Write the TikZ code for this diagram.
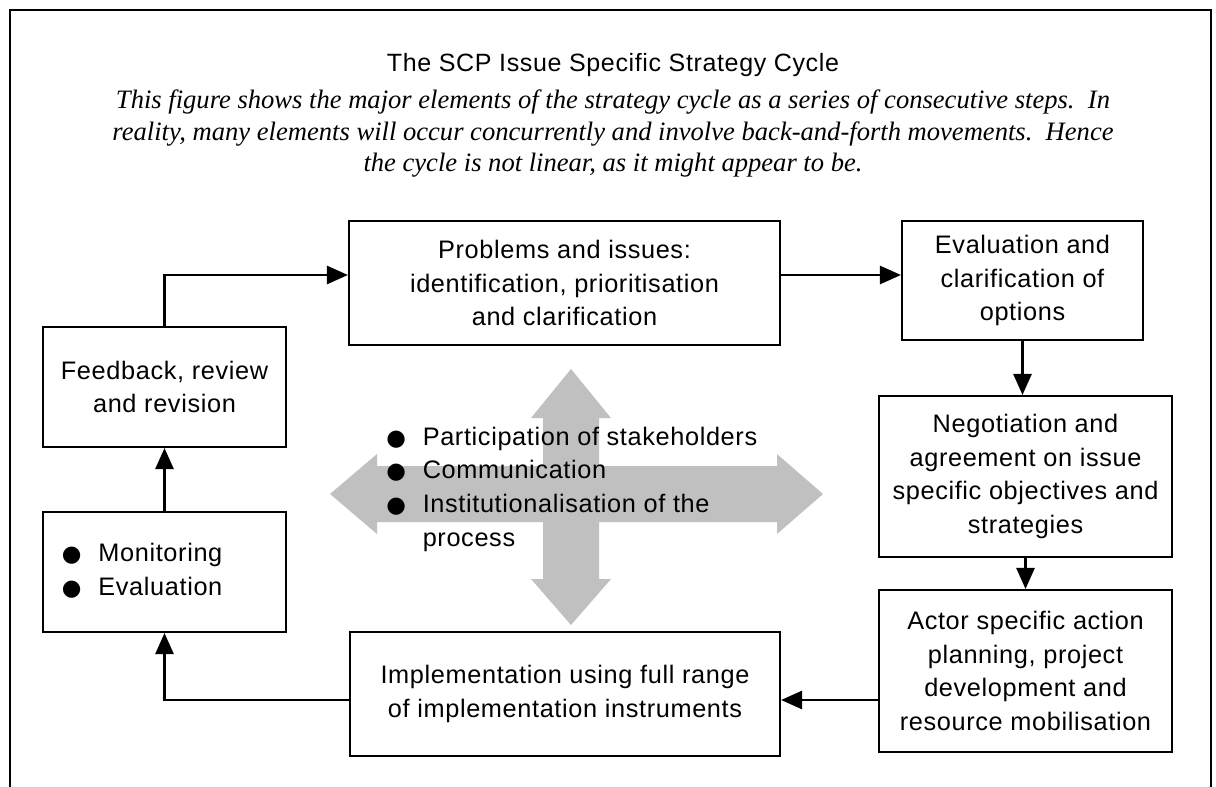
\documentclass[tikz,border=0pt]{standalone}
\usepackage{fontspec}
\setmainfont{Liberation Sans}[LetterSpace=2.5]
\newfontfamily\notefont{Liberation Serif}
\newfontfamily\dotfont{DejaVu Sans}
\usetikzlibrary{arrows.meta}

\definecolor{crossgray}{RGB}{192,192,192}
\newcommand{\dotitem}{{\dotfont\fontsize{16}{16}\selectfont\char"25CF}}

\begin{document}
\begin{tikzpicture}[x=0.025cm,y=-0.025cm,>={Triangle[length=15pt,width=13pt]},
    stepbox/.style={draw, line width=1.5pt, align=center, inner sep=0pt, font=\fontsize{18}{24}\selectfont},
    flow/.style={->, line width=1.5pt}]
    \useasboundingbox (0,0) rectangle (1216,787);

    % Rahmen, unten offen
    \draw[line width=1.9pt] (10,787) -- (10,10) -- (1211,10) -- (1211,787);

    % Überschrift und Erläuterung
    \node[font=\fontsize{17.8}{24}\selectfont, anchor=base] (title) at (613,72) {The SCP Issue Specific Strategy Cycle};
    \node[font=\notefont\itshape\fontsize{18.9}{22.4}\selectfont, align=center, inner sep=0pt] (note) at (613,134)
        {This figure shows the major elements of the strategy cycle as a series of consecutive steps.\ \ In\\
         reality, many elements will occur concurrently and involve back-and-forth movements.\ \ Hence\\
         the cycle is not linear, as it might appear to be.};

    % Grauer Doppelpfeil-Kreuz in der Mitte
    \fill[crossgray] (330,494) -- (377,454) -- (377,466) -- (543,466) -- (543,418) -- (531,418)
        -- (571,369) -- (611,418) -- (599,418) -- (599,466) -- (777,466) -- (777,454) -- (823,494)
        -- (777,534) -- (777,522) -- (599,522) -- (599,579) -- (611,579) -- (571,625) -- (531,579)
        -- (543,579) -- (543,522) -- (377,522) -- (377,534) -- cycle;

    % Schritte des Zyklus
    \node[stepbox, minimum width=10.775cm, minimum height=3.1cm] (prob) at (564.5,283)
        {Problems and issues:\\ identification, prioritisation\\ and clarification};
    \node[stepbox, minimum width=6.025cm, minimum height=2.975cm] (eval) at (1022.5,280.5)
        {Evaluation and\\ clarification of\\ options};
    \node[stepbox, minimum width=7.325cm, minimum height=4.025cm] (nego) at (1025.5,476.5)
        {Negotiation and\\ agreement on issue\\ specific objectives and\\ strategies};
    \node[stepbox, minimum width=7.325cm, minimum height=4.05cm] (actor) at (1025.5,671)
        {Actor specific action\\ planning, project\\ development and\\ resource mobilisation};
    \node[stepbox, minimum width=10.75cm, minimum height=3.1cm] (impl) at (565,694)
        {Implementation using full range\\ of implementation instruments};
    \node[stepbox, minimum width=6.075cm, minimum height=3cm, inner xsep=13.5pt,
          text width=6.075cm-27pt, align=left] (monit) at (164.5,572)
        {\begin{tabular}{@{}l@{\hspace{12pt}}l@{}}
            \dotitem & Monitoring\\
            \dotitem & Evaluation
         \end{tabular}};
    \node[stepbox, minimum width=6.075cm, minimum height=3cm] (feed) at (164.5,387)
        {Feedback, review\\ and revision};

    % Querschnittsaufgaben
    \node[font=\fontsize{18}{24}\selectfont, inner sep=0pt, anchor=west] (tasks) at (386,489)
        {\begin{tabular}{@{}l@{\hspace{12pt}}l@{}}
            \dotitem & Participation of stakeholders\\
            \dotitem & Communication\\
            \dotitem & Institutionalisation of the\\
                     & process
         \end{tabular}};

    % Höhen der waagrechten Verbindungen
    \coordinate (upper) at (0,275);
    \coordinate (lower) at (0,700);

    % Verbindungen
    \draw[flow] (feed.north) |- (prob.west |- upper);
    \draw[flow] (prob.east |- upper) -- (eval.west |- upper);
    \draw[flow] (eval.south) -- (eval.south |- nego.north);
    \draw[flow] (nego.south) -- (actor.north);
    \draw[flow] (actor.west |- lower) -- (impl.east |- lower);
    \draw[flow] (impl.west |- lower) -| (monit.south);
    \draw[flow] (monit.north) -- (feed.south);
\end{tikzpicture}
\end{document}
